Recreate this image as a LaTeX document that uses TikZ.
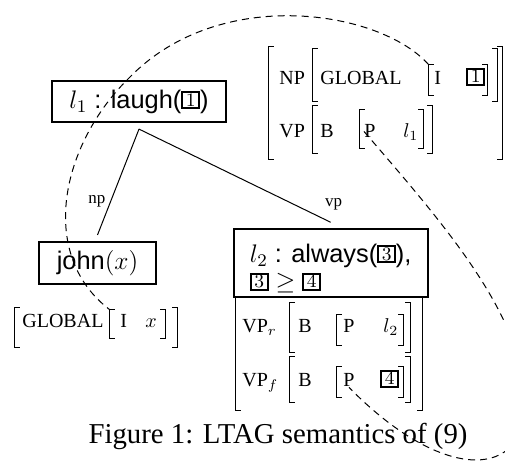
\RequirePackage{fix-cm}
\documentclass[tikz,border=0pt]{standalone}
\usepackage[no-math]{fontspec}
\setmainfont{Liberation Serif}
\setsansfont{Liberation Sans}
\usetikzlibrary{fit}

\newcommand\bx[1]{\raisebox{1pt}{\setlength\fboxrule{1pt}\setlength\fboxsep{0pt}\fbox{\makebox[7.3pt]{\rule[-0.5pt]{0pt}{7pt}\fontsize{9.5}{9.5}\selectfont$#1$}}}}

% optional style, name, x1, y1, x2, y2
\newcommand\avmbrk[6][]{%
  \node[inner sep=0pt, fit={(#3,#4) (#5,#6)}] (#2) {};
  \draw[brk,#1] ([shift={(5,0)}]#2.north west) -- (#2.north west) -- (#2.south west) -- ++(5,0);
  \draw[brk,#1] ([shift={(-5,0)}]#2.north east) -- (#2.north east) -- (#2.south east) -- ++(-5,0);
}

\tikzset{
  sembox/.style={draw, line width=1pt, inner sep=0pt, font=\fontsize{12.7}{13.6}\sffamily},
  avm/.style={inner sep=0pt, anchor=base west, font=\fontsize{10}{12}\selectfont},
  brk/.style={line width=0.5pt, line join=miter},
  obrk/.style={line width=0.85pt},
  edge/.style={line width=0.5pt},
  lbl/.style={inner sep=0pt, font=\fontsize{8.5}{10}\selectfont},
  link/.style={line width=0.5pt, dash pattern=on 3.5pt off 2.5pt},
  caption/.style={font=\fontsize{14.4}{16}\selectfont, inner sep=0pt, anchor=base}
}

\begin{document}
\begin{tikzpicture}[x=0.5pt,y=-0.5pt]
\useasboundingbox (0,0) rectangle (505,464);
\clip (0,0) rectangle (505,464);

% semantic boxes
\node[sembox, minimum width=87.3pt, minimum height=20.7pt] (root) at (139,101.7) {$l_1$ : laugh(\bx{1})};
\node[sembox, minimum width=58.8pt, minimum height=21.25pt] (john) at (97.5,263.2) {john$(x)$};
\node[sembox, minimum width=97pt, minimum height=33.9pt, align=left] (alw) at (330.7,263.2) {\rule{0pt}{14.5pt}$l_2$ : always(\bx{3}),\\\bx{3} $\geq$ \bx{4}};

% tree edges
\coordinate (apex) at ([yshift=-2.85pt]root.south);
\draw[edge] (apex) -- node[lbl, pos=0.68, left=2.5pt] {np} ([yshift=3pt]john.north);
\draw[edge] (apex) -- node[lbl, pos=1, anchor=base, xshift=1.5pt, yshift=8pt] {vp} ([yshift=3pt]alw.north);

% top-right AVM
\avmbrk[obrk]{npvp}{269}{47}{502}{159}
\avmbrk{glb}{313}{49}{497}{101}
\avmbrk{brI}{429}{65}{487}{95}
\avmbrk{brB}{313}{106}{432}{153}
\avmbrk{brP}{360}{110}{423}{148}
\node[avm] (tNP) at (279,85) {NP};
\node[avm] (tGL) at (320,85) {GLOBAL};
\node[avm] (tI) at (434,85) {I};
\node[avm] (b1) at (466,85) {\bx{1}};
\node[avm] (tVP) at (279,138) {VP};
\node[avm] (tB) at (320,138) {B};
\node[avm] (tP) at (364,138) {P};
\node[avm] (tl1) at (403,138) {$l_1$};

% john AVM
\avmbrk[obrk]{jg}{15}{308}{177}{347}
\avmbrk{jI}{110}{310}{165}{338}
\node[avm] (jGL) at (22,328) {GLOBAL};
\node[avm] (jIt) at (120,328) {I};
\node[avm] (jx) at (145,328) {$x$};

% always AVM
\avmbrk[obrk]{vpo}{236}{298}{422}{410}
\avmbrk{vB1}{290}{303}{410}{352}
\avmbrk{vP1}{337}{315}{403}{345}
\avmbrk{vB2}{290}{357}{410}{402}
\avmbrk{vP2}{337}{367}{403}{397}
\node[avm] (tVPr) at (242,333) {VP$_r$};
\node[avm] (tBr) at (298,333) {B};
\node[avm] (tPr) at (343,333) {P};
\node[avm] (tl2) at (383,333) {$l_2$};
\node[avm] (tVPf) at (242,387) {VP$_f$};
\node[avm] (tBf) at (298,387) {B};
\node[avm] (tP2) at (343,387) {P};
\node[avm] (b4) at (380,387) {\bx{4}};

% dashed links
\draw[link] (brI.north west) .. controls (380,10) and (220,-15) .. (130,77) .. controls (60,145) and (38,255) .. (jI.north west);
\draw[link] (tP.west) .. controls (440,220) and (530,320) .. (525,410) .. controls (520,480) and (440,480) .. (tP2.south);

% caption
\node[caption] (cap) at (278,444) {Figure 1: LTAG semantics of (9)};
\end{tikzpicture}
\end{document}
